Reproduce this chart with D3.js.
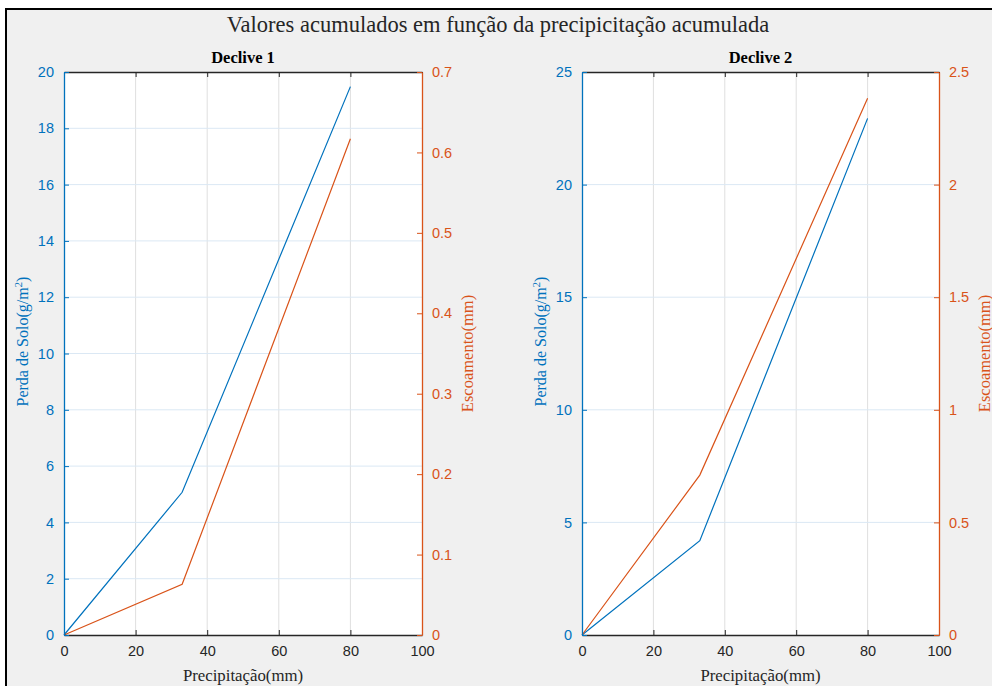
<!DOCTYPE html>
<html>
<head>
<meta charset="utf-8">
<script src="https://cdn.jsdelivr.net/npm/d3@7"></script>
<style>
  body { margin: 0; background: #fff; }
  svg { display: block; }
</style>
</head>
<body>
<svg id="chart" width="992" height="686"></svg>
<script>
// data
var precip = [0, 33, 80];
var perda1 = [0, 5.07, 19.48];
var escoamento1 = [0, 0.063, 0.617];
var perda2 = [0, 4.19, 22.94];
var escoamento2 = [0, 0.71, 2.383];

var xTicks = [0, 20, 40, 60, 80, 100];
var leftTicks1 = [0, 2, 4, 6, 8, 10, 12, 14, 16, 18, 20];
var rightTicks1 = [0, 0.1, 0.2, 0.3, 0.4, 0.5, 0.6, 0.7];
var leftTicks2 = [0, 5, 10, 15, 20, 25];
var rightTicks2 = [0, 0.5, 1, 1.5, 2, 2.5];

var BLUE = '#0072bd', ORANGE = '#d95319', DARK = '#262626';
var SERIF = '"Liberation Serif", "Times New Roman", serif';
var SANS = '"Liberation Sans", Arial, sans-serif';

var svg = d3.select('#chart');

// figure frame
svg.append('rect')
    .attr('x', 6).attr('y', 9)
    .attr('width', 1000).attr('height', 700)
    .attr('fill', '#f0f0f0')
    .attr('stroke', '#000')
    .attr('stroke-width', 2);

svg.append('text')
    .attr('x', 498).attr('y', 32)
    .attr('text-anchor', 'middle')
    .style('font-family', SERIF)
    .style('font-size', '22.5px')
    .attr('fill', DARK)
    .text('Valores acumulados em função da precipicitação acumulada');

var fmt = function (d) { return String(+d.toFixed(2)); };

function drawPanel(p) {
    var x = d3.scaleLinear().domain([0, 100]).range([p.left, p.right]);
    var yL = d3.scaleLinear().domain([0, p.leftMax]).range([p.bottom, p.top]);
    var yR = d3.scaleLinear().domain([0, p.rightMax]).range([p.bottom, p.top]);

    var g = svg.append('g');

    g.append('rect')
        .attr('x', p.left).attr('y', p.top)
        .attr('width', p.right - p.left).attr('height', p.bottom - p.top)
        .attr('fill', '#fff');

    // grid: vertical grey, horizontal from left axis (bluish)
    g.selectAll('.vgrid').data(xTicks.slice(1, -1)).enter().append('line')
        .attr('x1', function (d) { return x(d); }).attr('x2', function (d) { return x(d); })
        .attr('y1', p.top).attr('y2', p.bottom)
        .attr('stroke', '#dfdfdf').attr('stroke-width', 1);
    g.selectAll('.hgrid').data(p.leftTicks.slice(1, -1)).enter().append('line')
        .attr('x1', p.left).attr('x2', p.right)
        .attr('y1', function (d) { return yL(d); }).attr('y2', function (d) { return yL(d); })
        .attr('stroke', '#dbe8f4').attr('stroke-width', 1);

    var line = function (ys, y) {
        return d3.line().x(function (d, i) { return x(precip[i]); }).y(function (d) { return y(d); })(ys);
    };
    g.append('path').attr('d', line(p.perda, yL))
        .attr('fill', 'none').attr('stroke', BLUE).attr('stroke-width', 1.2);
    g.append('path').attr('d', line(p.escoamento, yR))
        .attr('fill', 'none').attr('stroke', ORANGE).attr('stroke-width', 1.2);

    // axes
    var styleAxis = function (sel, color) {
        sel.select('.domain').attr('stroke', color).attr('stroke-width', 1.3);
        sel.selectAll('.tick line').attr('stroke', color);
        sel.selectAll('.tick text').attr('fill', color)
            .style('font-family', SANS).style('font-size', '14.5px');
    };

    g.append('g').attr('transform', 'translate(0,' + p.bottom + ')')
        .call(d3.axisBottom(x).tickValues(xTicks).tickSizeInner(-5).tickSizeOuter(0).tickPadding(11))
        .call(styleAxis, DARK);
    g.append('g').attr('transform', 'translate(0,' + p.top + ')')
        .call(d3.axisTop(x).tickValues(xTicks).tickSizeInner(-5).tickSizeOuter(0).tickFormat(''))
        .call(styleAxis, DARK);
    g.append('g').attr('transform', 'translate(' + p.left + ',0)')
        .call(d3.axisLeft(yL).tickValues(p.leftTicks).tickSizeInner(-5).tickSizeOuter(0).tickPadding(10).tickFormat(fmt))
        .call(styleAxis, BLUE);
    g.append('g').attr('transform', 'translate(' + p.right + ',0)')
        .call(d3.axisRight(yR).tickValues(p.rightTicks).tickSizeInner(-5).tickSizeOuter(0).tickPadding(10).tickFormat(fmt))
        .call(styleAxis, ORANGE);

    var cx = (p.left + p.right) / 2, cy = (p.top + p.bottom) / 2;

    g.append('text')
        .attr('x', cx).attr('y', p.top - 9)
        .attr('text-anchor', 'middle')
        .style('font-family', SERIF).style('font-size', '16.5px').style('font-weight', 'bold')
        .attr('fill', '#000')
        .text(p.title);

    g.append('text')
        .attr('x', cx).attr('y', p.bottom + 46)
        .attr('text-anchor', 'middle')
        .style('font-family', SERIF).style('font-size', '16.8px')
        .attr('fill', DARK)
        .text('Precipitação(mm)');

    var yl = g.append('text')
        .attr('transform', 'translate(' + (p.left - 36) + ',' + (cy - 12) + ') rotate(-90)')
        .attr('text-anchor', 'middle')
        .style('font-family', SERIF).style('font-size', '16px')
        .attr('fill', BLUE);
    yl.append('tspan').text('Perda de Solo(g/m');
    yl.append('tspan').attr('dy', -6).style('font-size', '11px').text('2');
    yl.append('tspan').attr('dy', 6).text(')');

    g.append('text')
        .attr('transform', 'translate(' + (p.right + 51) + ',' + cy + ') rotate(-90)')
        .attr('text-anchor', 'middle')
        .style('font-family', SERIF).style('font-size', '16.5px')
        .attr('fill', ORANGE)
        .text('Escoamento(mm)');
}

drawPanel({
    title: 'Declive 1', left: 64, right: 422, top: 72, bottom: 635,
    leftMax: 20, rightMax: 0.7, leftTicks: leftTicks1, rightTicks: rightTicks1,
    perda: perda1, escoamento: escoamento1
});
drawPanel({
    title: 'Declive 2', left: 582, right: 939, top: 72, bottom: 635,
    leftMax: 25, rightMax: 2.5, leftTicks: leftTicks2, rightTicks: rightTicks2,
    perda: perda2, escoamento: escoamento2
});
</script>
</body>
</html>
